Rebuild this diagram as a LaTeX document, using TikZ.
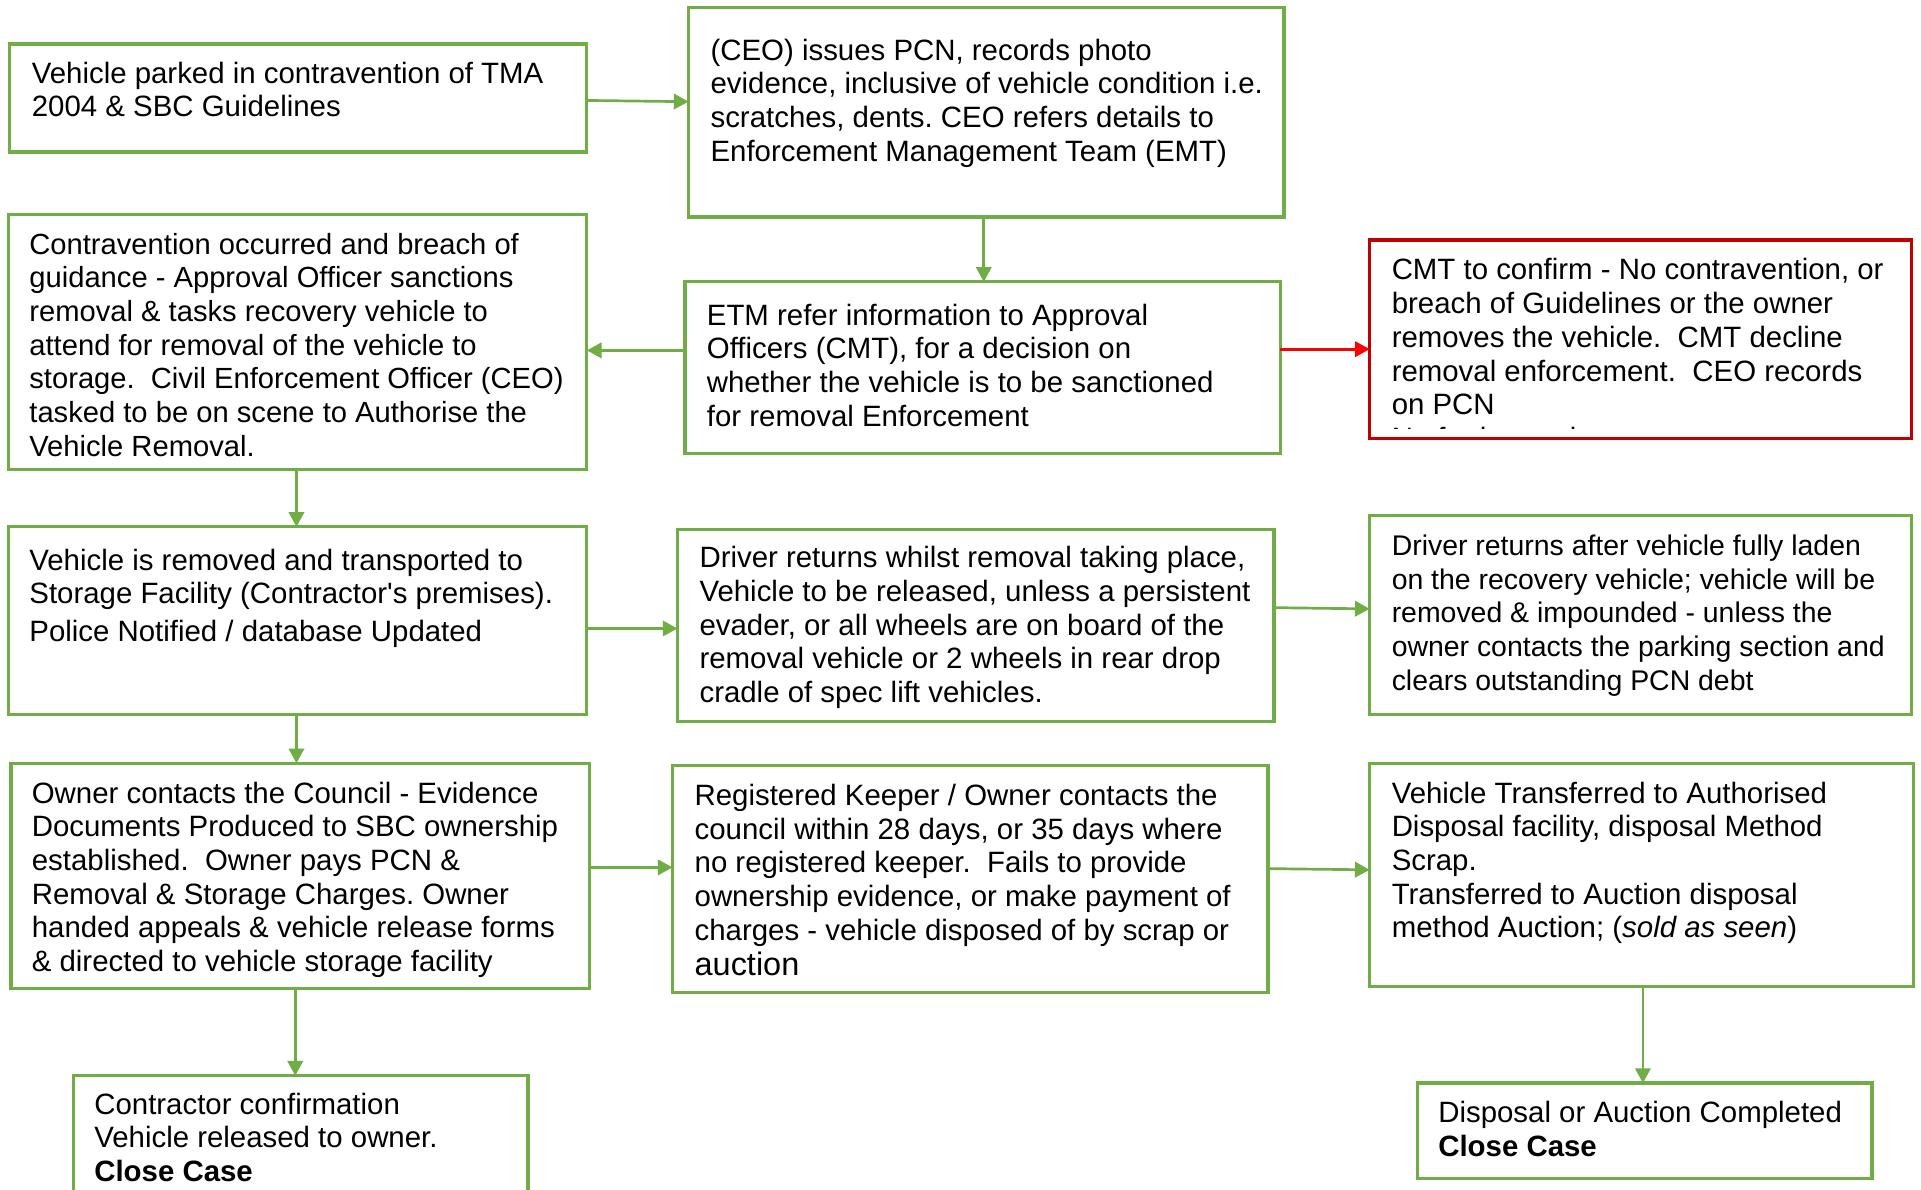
\documentclass[tikz,border=0pt]{standalone}
\usepackage{fontspec}
\setmainfont{Liberation Sans}
\newfontfamily\plainsans{Liberation Sans}
\usetikzlibrary{arrows.meta}
\definecolor{gr}{HTML}{70AD47}
\definecolor{rdbox}{HTML}{C00000}
\definecolor{rdarr}{HTML}{FF0000}
\tikzset{
  gbox/.style={draw=gr, line width=2.7pt, inner sep=0pt, outer sep=0pt, rectangle},
  rbox/.style={draw=rdbox, line width=2.7pt, inner sep=0pt, outer sep=0pt, rectangle},
  txt/.style={anchor=north west, inner sep=0pt, outer sep=0pt, align=left,
    font=\fontsize{24}{27.5}\selectfont},
  garr/.style={draw=gr, line width=2.2pt, -{Triangle[length=12pt,width=12.5pt]}},
  rarr/.style={draw=rdarr, line width=2.2pt, -{Triangle[length=12pt,width=12.5pt]}},
}
\newcommand\fl{\rule{0pt}{18pt}}
\begin{document}
\frenchspacing
\begin{tikzpicture}[x=1pt,y=-1pt]
\useasboundingbox (0,0) rectangle (1568,971);
% boxes
\node[gbox, minimum width=471pt, minimum height=88pt]  (b1)  at (243.5,80) {};
\node[gbox, minimum width=486pt, minimum height=171pt] (b2)  at (805,91.5) {};
\node[gbox, minimum width=472pt, minimum height=208pt] (b3)  at (243,279) {};
\node[gbox, minimum width=486pt, minimum height=140pt] (b4)  at (802,300) {};
\node[rbox, minimum width=442pt, minimum height=162pt] (b5)  at (1339,277) {};
\node[gbox, minimum width=472pt, minimum height=153pt] (b6)  at (243,506.5) {};
\node[gbox, minimum width=487pt, minimum height=157pt] (b7)  at (796.5,510.5) {};
\node[gbox, minimum width=442pt, minimum height=162pt] (b8)  at (1339,502) {};
\node[gbox, minimum width=472pt, minimum height=184pt] (b9)  at (245,715) {};
\node[gbox, minimum width=486pt, minimum height=185pt] (b10) at (792,717.5) {};
\node[gbox, minimum width=444pt, minimum height=182pt] (b11) at (1340,714) {};
\node[gbox, minimum width=371pt, minimum height=120pt] (b12) at (245.5,938) {};
\node[gbox, minimum width=371pt, minimum height=78pt]  (b13) at (1342.5,923) {};
% texts
\node[txt] (t1) at (26,68-18) {\fl Vehicle parked in contravention of TMA\\2004 \& SBC Guidelines};
\node[txt] (t2) at (580,49-18) {\fl (CEO) issues PCN, records photo\\evidence, inclusive of vehicle condition i.e.\\scratches, dents. CEO refers details to\\Enforcement Management Team (EMT)};
\node[txt, font=\fontsize{23.8}{27.5}\selectfont] (t3) at (24,207.5-18) {\fl Contravention occurred and breach of\\guidance - Approval Officer sanctions\\removal \& tasks recovery vehicle to\\attend for removal of the vehicle to\\storage.\ \ Civil Enforcement Officer (CEO)\\tasked to be on scene to Authorise the\\Vehicle Removal.};
\node[txt] (t4) at (577,265.5-18) {\fl ETM refer information to Approval\\Officers (CMT), for a decision on\\whether the vehicle is to be sanctioned\\for removal Enforcement};
\begin{scope}
\clip (1120,198) rectangle (1558,350);
\node[txt] (t5) at (1136,228.5-18) {\fl CMT to confirm - No contravention, or\\breach of Guidelines or the owner\\removes the vehicle.\ \ CMT decline\\removal enforcement.\ \ CEO records\\on PCN\\No further action};
\end{scope}
\node[txt] (t6) at (24,465.5-18) {\fl Vehicle is removed and transported to\\Storage Facility (Contractor{\plainsans'}s premises).\\[3.5pt]Police Notified / database Updated};
\node[txt] (t7) at (571,463.5-18) {\fl Driver returns whilst removal taking place,\\Vehicle to be released, unless a persistent\\evader, or all wheels are on board of the\\removal vehicle or 2 wheels in rear drop\\cradle of spec lift vehicles.};
\node[txt, font=\fontsize{23.2}{27.5}\selectfont] (t8) at (1136,453.5-18) {\fl Driver returns after vehicle fully laden\\on the recovery vehicle; vehicle will be\\removed \& impounded - unless the\\owner contacts the parking section and\\clears outstanding PCN debt};
\node[txt] (t9) at (26,655.5-18) {\fl Owner contacts the Council - Evidence\\Documents Produced to SBC ownership\\established.\ \ Owner pays PCN \&\\Removal \& Storage Charges. Owner\\handed appeals \& vehicle release forms\\\& directed to vehicle storage facility};
\node[txt] (t10) at (567,657.5-18) {\fl Registered Keeper / Owner contacts the\\council within 28 days, or 35 days where\\no registered keeper.\ \ Fails to provide\\ownership evidence, or make payment of\\charges - vehicle disposed of by scrap or\\[1.5pt]{\fontsize{26.5}{27.5}\selectfont auction}};
\node[txt] (t11) at (1136,655.5-18) {\fl Vehicle Transferred to Authorised\\Disposal facility, disposal Method\\Scrap.\\Transferred to Auction disposal\\method Auction; (\textit{sold as seen})};
\node[txt] (t12) at (77,909.5-18) {\fl Contractor confirmation\\Vehicle released to owner.\\\textbf{Close Case}};
\node[txt] (t13) at (1174,916.5-18) {\fl Disposal or Auction Completed\\\textbf{Close Case}};
% connectors
\draw[garr] ([yshift=-2pt]b1.east) -- ([yshift=8.5pt]b2.west);
\draw[garr] ([xshift=-2pt]b2.south) -- ([xshift=1pt]b4.north);
\draw[garr] ([yshift=14pt]b4.west) -- ([yshift=-7pt]b3.east);
\draw[rarr] ([yshift=15pt]b4.east) -- ([yshift=-8pt]b5.west);
\draw[garr] ([xshift=-1pt]b3.south) -- ([xshift=-1pt]b6.north);
\draw[garr] ([yshift=-6.5pt]b6.east) -- ([yshift=-2.5pt]b7.west);
\draw[garr] ([yshift=14.5pt]b7.east) -- ([yshift=5pt]b8.west);
\draw[garr] ([xshift=-1pt]b6.south) -- ([xshift=-3pt]b9.north);
\draw[garr] ([yshift=7pt]b9.east) -- ([yshift=9.5pt]b10.west);
\draw[garr] ([yshift=8.5pt]b10.east) -- ([yshift=4pt]b11.west);
\draw[garr] ([xshift=-4pt]b9.south) -- ([xshift=-4.5pt]b12.north);
\draw[garr] ([xshift=1pt]b11.south) -- ([xshift=-1.5pt]b13.north);
\end{tikzpicture}
\end{document}
